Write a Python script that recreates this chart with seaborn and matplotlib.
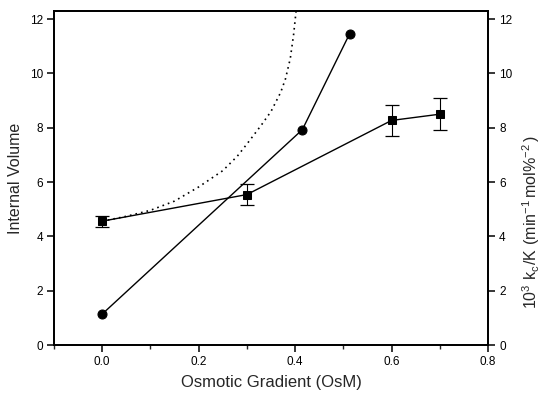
import matplotlib
matplotlib.use("Agg")
import matplotlib.pyplot as plt
import seaborn as sns
import pandas as pd
from matplotlib.ticker import MultipleLocator

# Data
sq_x = [0.0, 0.3, 0.6, 0.7]
sq_y = [4.56, 5.54, 8.27, 8.50]
sq_err = [0.20, 0.38, 0.58, 0.60]

circ_x = [0.0, 0.415, 0.513]
circ_y = [1.14, 7.93, 11.46]

curve_x = [0.0, 0.05, 0.10, 0.15, 0.20, 0.25, 0.28, 0.30, 0.33, 0.35, 0.37, 0.38, 0.39, 0.397, 0.402, 0.406]
curve_y = [4.56, 4.74, 4.96, 5.30, 5.82, 6.42, 6.95, 7.40, 8.10, 8.60, 9.30, 9.80, 10.55, 11.45, 12.3, 13.0]

x_ticks = [0.0, 0.2, 0.4, 0.6, 0.8]
y_ticks = [0, 2, 4, 6, 8, 10, 12]

sns.set_style("ticks")
plt.rcParams['font.family'] = ['Liberation Sans', 'DejaVu Sans']
plt.rcParams['mathtext.default'] = 'regular'

fig = plt.figure(figsize=(5.44, 3.96), dpi=100)
ax = fig.add_axes([54/544, 1-345/396, (488-54)/544, (345-11)/396])
ax2 = ax.twinx()

df_sq = pd.DataFrame({"x": sq_x, "y": sq_y})
df_c = pd.DataFrame({"x": circ_x, "y": circ_y})
df_cu = pd.DataFrame({"x": curve_x, "y": curve_y})

sns.lineplot(data=df_cu, x="x", y="y", ax=ax, color="black", lw=1.2,
             linestyle=(0, (1, 2.4)), sort=False, estimator=None)
ax.errorbar(sq_x, sq_y, yerr=sq_err, fmt="none", ecolor="black",
            elinewidth=0.8, capsize=5, capthick=0.9)
sns.lineplot(data=df_sq, x="x", y="y", ax=ax, color="black", lw=1.0,
             marker="s", markersize=6, markeredgecolor="black",
             sort=False, estimator=None)
sns.lineplot(data=df_c, x="x", y="y", ax=ax2, color="black", lw=1.0,
             marker="o", markersize=6.5, markeredgecolor="black",
             sort=False, estimator=None)

for a in (ax, ax2):
    a.set_xlim(-0.1, 0.8)
    a.set_ylim(0, 12.3)
    a.set_yticks(y_ticks)
    for s in a.spines.values():
        s.set_visible(True)
        s.set_linewidth(1.3)
        s.set_color("black")

ax.set_xticks(x_ticks)
ax.set_xticklabels([f"{v:.1f}" for v in x_ticks])
ax.xaxis.set_minor_locator(MultipleLocator(0.1))
ax.tick_params(axis="both", which="major", direction="out", length=5,
               width=1.1, labelsize=8.5, colors="black", pad=3)
ax.tick_params(axis="x", which="minor", direction="out", length=3, width=1.0)
ax2.tick_params(axis="y", which="major", direction="out", length=5,
                width=1.1, labelsize=8.5, colors="black", pad=3)

ax.set_xlabel("Osmotic Gradient (OsM)", fontsize=12, labelpad=5)
ax.set_ylabel("Internal Volume", fontsize=11.5, labelpad=5)
ax2.set_ylabel(r"$10^3\ k_c/K\ (min^{-1}\,mol\%^{-2}\,)$", fontsize=11.5,
               va="center", rotation_mode="anchor")
ax2.yaxis.set_label_coords((531 - 54) / 434, (345 - 222) / 334)
ax2.set_xlabel("")

fig.savefig("out.png", dpi=100)
